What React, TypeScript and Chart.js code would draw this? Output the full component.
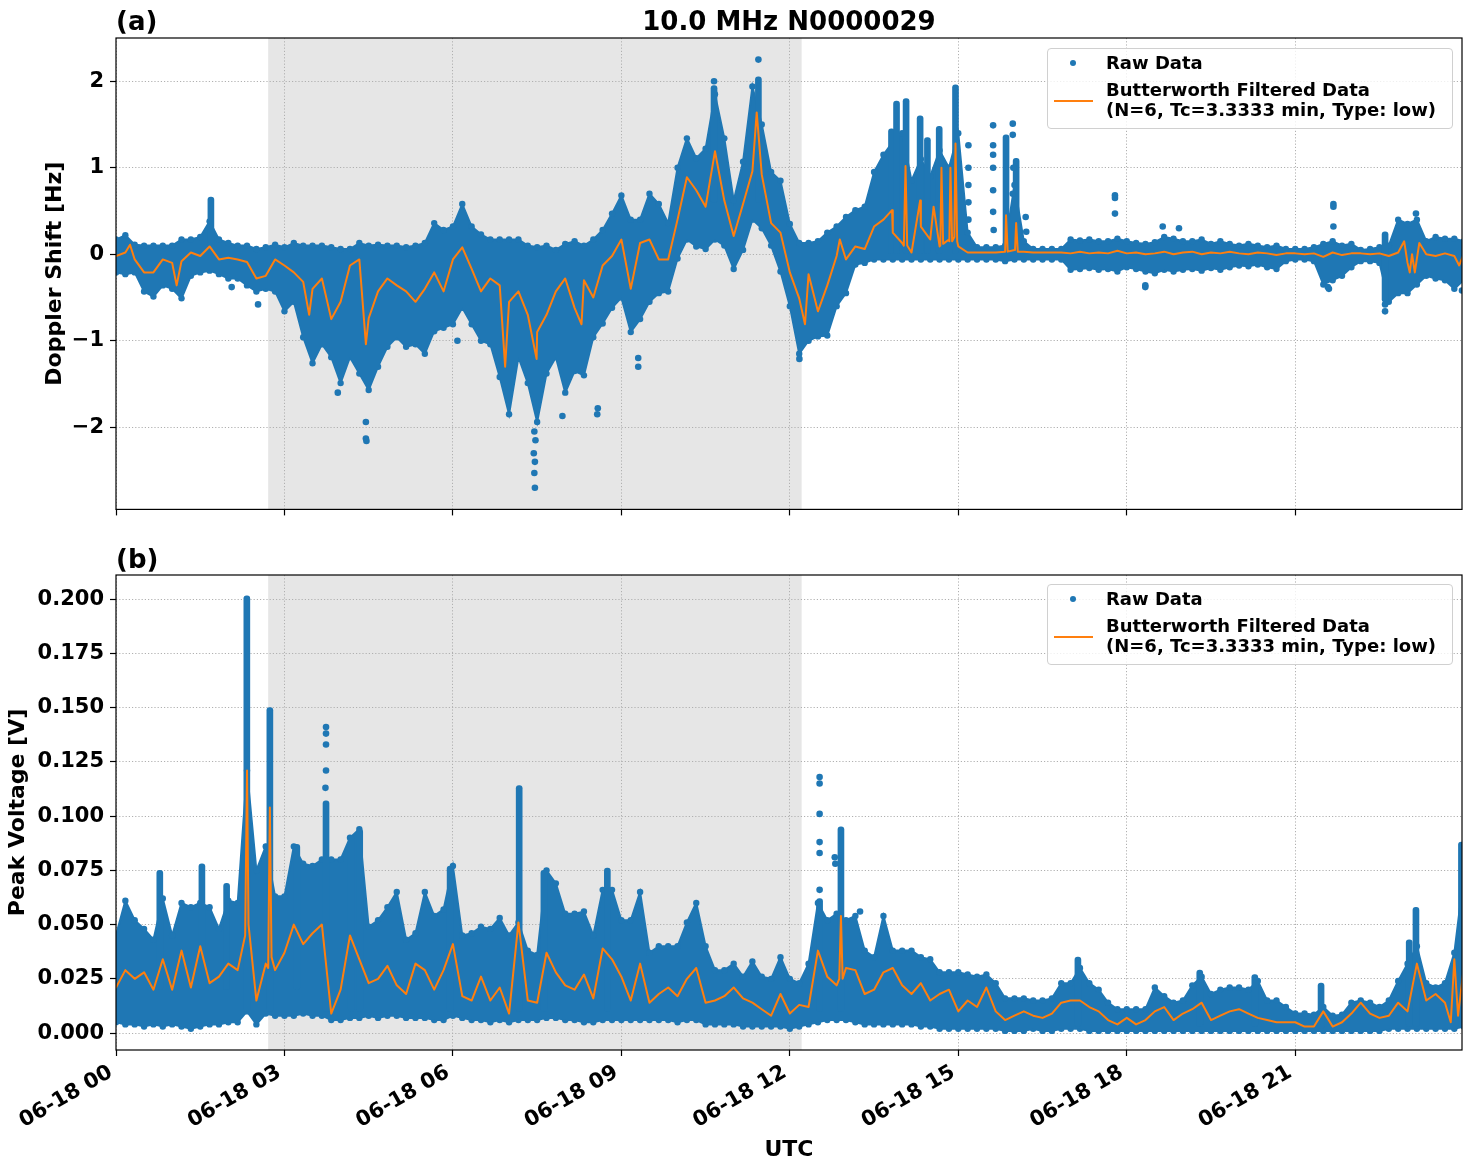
import { useEffect, useRef } from 'react';
import { Chart, registerables } from 'chart.js';

Chart.register(...registerables);
Chart.defaults.font.family = "'DejaVu Sans', sans-serif";
Chart.defaults.color = '#000';

// ---------- time axis (hours after 06-18 00 UTC) ----------
const BIN_MINUTES = 10;
const HOUR_TICKS = [0, 3, 6, 9, 12, 15, 18, 21];
const HOUR_TICK_LABELS = ['06-18 00', '06-18 03', '06-18 06', '06-18 09', '06-18 12', '06-18 15', '06-18 18', '06-18 21'];
const X_END_HOURS = 23.97;
const SHADE_HOURS = [2.71, 12.21];

// ---------- (a) Doppler shift [Hz] ----------
const DOPPLER_RANGE = [-2.95, 2.5];
const DOPPLER_TICKS = [-2, -1, 0, 1, 2];
const DOPPLER_TICK_LABELS = ['\u22122', '\u22121', '0', '1', '2'];

// upper / lower edge of the raw cloud, one value per 10-minute bin
const DOPPLER_HI = [
  0.17, 0.22, 0.11, 0.10, 0.10, 0.10, 0.10, 0.17, 0.17, 0.20, 0.38, 0.17,
  0.13, 0.10, 0.10, 0.06, 0.08, 0.11, 0.08, 0.13, 0.10, 0.10, 0.10, 0.08,
  0.06, 0.06, 0.13, 0.10, 0.11, 0.10, 0.10, 0.08, 0.10, 0.13, 0.36, 0.28,
  0.32, 0.58, 0.32, 0.23, 0.17, 0.17, 0.17, 0.17, 0.10, 0.08, 0.10, 0.05,
  0.12, 0.15, 0.10, 0.17, 0.28, 0.47, 0.68, 0.40, 0.40, 0.70, 0.58, 0.36,
  1.00, 1.34, 1.11, 1.22, 1.85, 1.34, 0.62, 1.07, 1.94, 1.50, 0.95, 0.85,
  0.35, 0.13, 0.13, 0.15, 0.25, 0.32, 0.43, 0.51, 0.55, 0.95, 1.15, 1.30,
  1.40, 0.85, 1.10, 0.90, 1.20, 1.00, 1.40, 0.25, 0.08, 0.08, 0.08, 0.10,
  0.80, 0.15, 0.06, 0.06, 0.06, 0.06, 0.17, 0.16, 0.17, 0.15, 0.15, 0.18,
  0.15, 0.13, 0.12, 0.14, 0.20, 0.18, 0.15, 0.15, 0.17, 0.12, 0.15, 0.12,
  0.10, 0.12, 0.10, 0.08, 0.10, 0.06, 0.06, 0.06, 0.08, 0.12, 0.15, 0.10,
  0.12, 0.05, 0.06, 0.08, 0.10, 0.40, 0.35, 0.40, 0.15, 0.20, 0.18, 0.18,
  0.15,
];
const DOPPLER_LO = [
  -0.21, -0.23, -0.21, -0.43, -0.49, -0.36, -0.40, -0.51, -0.25, -0.21, -0.19, -0.23,
  -0.28, -0.28, -0.36, -0.43, -0.40, -0.43, -0.66, -0.55, -0.96, -1.26, -1.04, -1.19,
  -1.49, -1.19, -1.38, -1.57, -1.30, -1.07, -0.96, -1.07, -1.04, -1.15, -0.89, -0.85,
  -0.81, -0.62, -0.81, -1.00, -1.04, -1.42, -1.85, -1.19, -1.49, -1.94, -1.38, -1.19,
  -1.60, -1.35, -1.40, -0.96, -0.80, -0.62, -0.50, -0.90, -0.75, -0.55, -0.45, -0.43,
  -0.05, 0.17, 0.09, 0.06, 0.17, 0.10, -0.17, 0.05, 0.40, 0.30, 0.10, -0.20,
  -0.60, -1.15, -1.00, -0.95, -0.94, -0.60, -0.45, -0.12, -0.10, -0.06, -0.06, -0.06,
  -0.06, -0.06, -0.06, -0.06, -0.06, -0.06, -0.06, -0.06, -0.06, -0.06, -0.06, -0.08,
  -0.06, -0.06, -0.06, -0.06, -0.06, -0.06, -0.18, -0.17, -0.16, -0.18, -0.17, -0.20,
  -0.15, -0.17, -0.20, -0.22, -0.18, -0.20, -0.18, -0.17, -0.19, -0.16, -0.18, -0.15,
  -0.13, -0.14, -0.12, -0.15, -0.17, -0.08, -0.06, -0.06, -0.08, -0.35, -0.30, -0.25,
  -0.15, -0.08, -0.08, -0.10, -0.55, -0.45, -0.45, -0.35, -0.25, -0.28, -0.30, -0.40,
  -0.30,
];
// Butterworth low-pass output, one value per 10-minute bin
const DOPPLER_FILT = [
  -0.02, 0.02, -0.06, -0.21, -0.21, -0.06, -0.10, -0.08, 0.02, -0.02, 0.09, -0.06,
  -0.04, -0.06, -0.09, -0.28, -0.25, -0.06, -0.13, -0.21, -0.32, -0.40, -0.28, -0.75,
  -0.55, -0.13, -0.06, -0.74, -0.43, -0.28, -0.36, -0.43, -0.55, -0.40, -0.21, -0.43,
  -0.06, 0.08, -0.17, -0.43, -0.28, -0.36, -0.55, -0.43, -0.70, -0.90, -0.70, -0.43,
  -0.28, -0.62, -0.30, -0.50, -0.13, -0.02, 0.17, -0.40, 0.13, 0.17, -0.06, -0.06,
  0.40, 0.89, 0.74, 0.55, 1.19, 0.62, 0.21, 0.58, 0.96, 0.92, 0.36, 0.25,
  -0.21, -0.51, -0.23, -0.66, -0.36, -0.02, -0.06, 0.09, 0.06, 0.32, 0.40, 0.25,
  0.13, 0.02, 0.32, 0.17, 0.09, 0.17, 0.09, 0.02, 0.02, 0.02, 0.02, 0.03,
  0.05, 0.03, 0.02, 0.02, 0.02, 0.02, 0.01, 0.03, 0.01, 0.02, 0.01, 0.04,
  0.01, 0.02, 0.00, 0.01, 0.03, 0.00, 0.02, 0.03, 0.00, 0.02, 0.01, 0.03,
  0.01, 0.00, 0.02, 0.01, -0.01, 0.01, 0.01, 0.00, 0.01, -0.03, 0.02, -0.01,
  0.01, 0.01, 0.00, 0.01, -0.02, 0.02, -0.10, -0.05, 0.00, -0.02, 0.01, -0.02,
  0.00,
];
// short excursions of the filtered trace between bins: [hour, Hz]
const DOPPLER_FILT_PEAKS = [
  [0.25, 0.11], [1.08, -0.36], [3.44, -0.70], [4.45, -1.04], [6.93, -1.30], [7.49, -1.21],
  [8.29, -0.81], [11.41, 1.64], [12.27, -0.81], [12.89, 0.17], [13.82, 0.51],
  [14.03, 0.10], [14.06, 1.02], [14.09, 0.10], [14.32, 0.62], [14.56, 0.55],
  [14.68, 0.10], [14.70, 1.00], [14.73, 0.12], [14.84, 0.15], [14.86, 1.00], [14.89, 0.15],
  [14.93, 0.20], [14.95, 1.28], [14.98, 0.15], [15.83, 0.03], [15.85, 0.45], [15.88, 0.03],
  [16.01, 0.05], [16.03, 0.36], [16.06, 0.03], [22.94, 0.15], [23.04, -0.21], [23.08, 0.00],
  [23.13, -0.21], [23.21, 0.13], [23.92, -0.13],
];
// narrow dense columns of raw samples: [hour, low Hz, high Hz]
const DOPPLER_SPIKES = [
  [1.69, 0.05, 0.66], [10.65, 0.60, 1.95], [11.44, 0.60, 2.05], [13.81, 0.0, 1.45],
  [13.90, 0.0, 1.77], [14.07, 0.0, 1.80], [14.32, 0.0, 1.60], [14.45, 0.0, 1.35],
  [14.66, 0.0, 1.48], [14.95, 0.0, 1.96], [15.85, 0.0, 1.38], [16.03, 0.0, 1.11],
  [22.60, -0.55, 0.26],
];
// isolated raw samples: [hour, Hz]
const DOPPLER_DOTS = [
  [2.06, -0.38], [2.53, -0.58], [3.95, -1.60], [4.45, -1.94], [4.45, -2.13], [4.46, -2.16],
  [6.08, -1.00], [7.44, -2.30], [7.45, -2.05], [7.45, -2.53], [7.46, -2.40], [7.46, -2.70],
  [7.47, -2.15], [7.95, -1.87], [8.57, -1.85], [8.58, -1.78], [9.30, -1.30], [9.30, -1.20],
  [10.65, 2.00], [11.44, 2.25], [12.17, -1.21], [15.18, 1.26], [15.18, 1.00], [15.18, 0.80],
  [15.18, 0.60], [15.18, 0.40], [15.62, 1.49], [15.62, 1.26], [15.62, 1.15], [15.62, 1.00],
  [15.62, 0.74], [15.62, 0.49], [15.63, 0.28], [15.97, 1.51], [15.97, 1.38], [15.98, 1.00],
  [15.97, 0.70], [16.20, 0.43], [16.21, 0.26], [17.79, 0.68], [17.79, 0.65], [17.79, 0.47],
  [18.33, -0.36], [18.33, -0.38], [18.64, 0.32], [18.93, 0.30], [21.58, -0.38], [21.60, -0.40],
  [21.68, 0.58], [21.68, 0.55], [21.68, 0.32], [22.60, -0.66], [22.60, -0.58], [23.15, 0.47],
  [23.97, -0.42],
];

// ---------- (b) peak voltage [V] ----------
const VOLT_RANGE = [-0.0078, 0.2111];
const VOLT_TICKS = [0, 0.025, 0.05, 0.075, 0.1, 0.125, 0.15, 0.175, 0.2];
const VOLT_TICK_LABELS = ['0.000', '0.025', '0.050', '0.075', '0.100', '0.125', '0.150', '0.175', '0.200'];

const VOLT_HI = [
  0.045, 0.061, 0.052, 0.048, 0.043, 0.062, 0.045, 0.060, 0.058, 0.060, 0.058, 0.048,
  0.061, 0.060, 0.121, 0.075, 0.086, 0.063, 0.063, 0.086, 0.078, 0.077, 0.080, 0.080,
  0.080, 0.090, 0.094, 0.049, 0.052, 0.058, 0.065, 0.043, 0.046, 0.065, 0.054, 0.057,
  0.077, 0.045, 0.046, 0.049, 0.048, 0.053, 0.045, 0.051, 0.038, 0.036, 0.075, 0.069,
  0.055, 0.055, 0.056, 0.045, 0.066, 0.066, 0.052, 0.052, 0.065, 0.037, 0.040, 0.040,
  0.040, 0.051, 0.060, 0.040, 0.029, 0.029, 0.032, 0.026, 0.033, 0.026, 0.025, 0.035,
  0.025, 0.023, 0.032, 0.060, 0.052, 0.055, 0.052, 0.054, 0.038, 0.035, 0.054, 0.038,
  0.038, 0.038, 0.035, 0.034, 0.028, 0.028, 0.028, 0.027, 0.026, 0.027, 0.023, 0.016,
  0.016, 0.016, 0.015, 0.015, 0.016, 0.023, 0.023, 0.030, 0.023, 0.020, 0.014, 0.011,
  0.011, 0.011, 0.011, 0.021, 0.017, 0.014, 0.015, 0.022, 0.026, 0.018, 0.020, 0.021,
  0.021, 0.020, 0.024, 0.015, 0.015, 0.012, 0.009, 0.009, 0.0085, 0.012, 0.008, 0.0085,
  0.014, 0.015, 0.014, 0.012, 0.015, 0.024, 0.032, 0.040, 0.023, 0.021, 0.023, 0.037,
  0.072,
];
const VOLT_LO = [
  0.005, 0.004, 0.004, 0.003, 0.004, 0.003, 0.004, 0.003, 0.002, 0.003, 0.004, 0.004,
  0.005, 0.005, 0.010, 0.004, 0.009, 0.008, 0.008, 0.008, 0.009, 0.008, 0.008, 0.006,
  0.006, 0.007, 0.007, 0.008, 0.007, 0.008, 0.008, 0.007, 0.007, 0.007, 0.006, 0.006,
  0.008, 0.007, 0.006, 0.006, 0.005, 0.006, 0.005, 0.006, 0.006, 0.006, 0.007, 0.007,
  0.006, 0.006, 0.005, 0.005, 0.006, 0.006, 0.006, 0.006, 0.006, 0.006, 0.006, 0.006,
  0.005, 0.006, 0.006, 0.004, 0.004, 0.004, 0.004, 0.003, 0.003, 0.003, 0.003, 0.003,
  0.002, 0.003, 0.004, 0.005, 0.006, 0.006, 0.006, 0.005, 0.004, 0.004, 0.004, 0.004,
  0.004, 0.004, 0.003, 0.003, 0.002, 0.002, 0.002, 0.002, 0.002, 0.002, 0.002, 0.001,
  0.001, 0.001, 0.002, 0.001, 0.001, 0.002, 0.002, 0.002, 0.001, 0.001, 0.001, 0.001,
  0.001, 0.001, 0.001, 0.001, 0.001, 0.001, 0.001, 0.001, 0.001, 0.001, 0.001, 0.001,
  0.001, 0.001, 0.001, 0.001, 0.001, 0.001, 0.001, 0.001, 0.001, 0.001, 0.001, 0.001,
  0.001, 0.001, 0.001, 0.001, 0.002, 0.002, 0.002, 0.002, 0.002, 0.002, 0.002, 0.002,
  0.003,
];
const VOLT_FILT = [
  0.021, 0.029, 0.025, 0.028, 0.020, 0.034, 0.020, 0.038, 0.021, 0.040, 0.023, 0.026,
  0.032, 0.029, 0.121, 0.015, 0.032, 0.029, 0.037, 0.050, 0.041, 0.046, 0.050, 0.009,
  0.020, 0.045, 0.034, 0.023, 0.025, 0.031, 0.022, 0.018, 0.032, 0.029, 0.020, 0.029,
  0.041, 0.017, 0.015, 0.026, 0.015, 0.021, 0.009, 0.051, 0.015, 0.014, 0.037, 0.028,
  0.022, 0.020, 0.027, 0.016, 0.039, 0.034, 0.026, 0.015, 0.032, 0.014, 0.018, 0.021,
  0.017, 0.025, 0.030, 0.014, 0.015, 0.017, 0.021, 0.016, 0.014, 0.011, 0.008, 0.018,
  0.009, 0.013, 0.012, 0.038, 0.026, 0.022, 0.030, 0.029, 0.018, 0.020, 0.028, 0.030,
  0.022, 0.018, 0.023, 0.015, 0.018, 0.020, 0.010, 0.015, 0.012, 0.021, 0.010, 0.006,
  0.008, 0.010, 0.008, 0.007, 0.009, 0.014, 0.015, 0.015, 0.012, 0.010, 0.006, 0.004,
  0.007, 0.004, 0.006, 0.010, 0.012, 0.006, 0.009, 0.011, 0.014, 0.006, 0.008, 0.010,
  0.011, 0.009, 0.007, 0.006, 0.005, 0.005, 0.005, 0.003, 0.003, 0.010, 0.003, 0.005,
  0.009, 0.014, 0.009, 0.007, 0.008, 0.014, 0.010, 0.032, 0.015, 0.018, 0.014, 0.034,
  0.030,
];
const VOLT_FILT_PEAKS = [
  [2.30, 0.045], [2.36, 0.050], [2.71, 0.030], [2.74, 0.104], [2.77, 0.035],
  [12.88, 0.025], [12.91, 0.054], [12.94, 0.025], [23.77, 0.005], [23.90, 0.008],
];
const VOLT_SPIKES = [
  [0.78, 0.020, 0.075], [1.53, 0.020, 0.078], [1.97, 0.020, 0.069], [2.33, 0.010, 0.2015],
  [2.74, 0.010, 0.150], [3.22, 0.020, 0.087], [3.74, 0.010, 0.107], [4.19, 0.010, 0.091],
  [4.34, 0.010, 0.094], [5.95, 0.010, 0.077], [7.18, 0.010, 0.114], [7.62, 0.010, 0.075],
  [8.75, 0.010, 0.076], [12.53, 0.010, 0.062], [12.91, 0.010, 0.095], [17.13, 0.003, 0.035],
  [19.30, 0.003, 0.029], [20.28, 0.003, 0.027], [21.46, 0.002, 0.023], [23.03, 0.003, 0.043],
  [23.15, 0.003, 0.058], [23.96, 0.003, 0.088],
];
const VOLT_DOTS = [
  [3.74, 0.141], [3.74, 0.138], [3.74, 0.133], [3.74, 0.121], [3.73, 0.113],
  [12.53, 0.118], [12.53, 0.115], [12.53, 0.101], [12.53, 0.088], [12.53, 0.083],
  [12.53, 0.066], [12.80, 0.081], [12.81, 0.078], [13.25, 0.056],
];

// ---------- styling ----------
const BLUE = '#1f77b4';
const ORANGE = '#ff7f0e';
const FONT = "'DejaVu Sans', sans-serif";

const binHour = (i: number) => (i * BIN_MINUTES) / 60;

const panelDecor = {
  id: 'panelDecor',
  beforeDraw(chart: any) {
    const { ctx, chartArea, scales } = chart;
    const l = scales.x.getPixelForValue(SHADE_HOURS[0]);
    const r = scales.x.getPixelForValue(SHADE_HOURS[1]);
    ctx.save();
    ctx.fillStyle = '#e6e6e6';
    ctx.fillRect(l, chartArea.top, r - l, chartArea.bottom - chartArea.top);
    ctx.restore();
  },
  afterDatasetsDraw(chart: any) {
    const { ctx, chartArea } = chart;
    ctx.save();
    ctx.strokeStyle = '#000';
    ctx.lineWidth = 1.2;
    ctx.strokeRect(chartArea.left, chartArea.top, chartArea.right - chartArea.left, chartArea.bottom - chartArea.top);
    ctx.restore();
  },
};

interface PanelSpec {
  hi: number[];
  lo: number[];
  filt: number[];
  peaks: number[][];
  spikes: number[][];
  dots: number[][];
  range: number[];
  ticks: number[];
  tickLabels: string[];
  yTitle: string;
  yTitlePad: number;
  showTime: boolean;
  padTop: number;
}

function buildChart(canvas: HTMLCanvasElement, p: PanelSpec) {
  const filtPts = p.filt
    .map((v, i) => ({ x: binHour(i), y: v }))
    .concat(p.peaks.map(([x, y]) => ({ x, y })))
    .sort((a, b) => a.x - b.x);
  const upper = p.hi.map((v, i) => ({ x: binHour(i), y: v }));
  const lower = p.lo.map((v, i) => ({ x: binHour(i), y: v }));
  const spikes = p.spikes.map(([x, lo, hi]) => ({ x, y: [lo, hi] }));
  const dots = p.dots.map(([x, y]) => ({ x, y }));

  const grid = {
    color: '#b0b0b0',
    lineWidth: 1,
    offset: false,
    drawTicks: true,
    tickLength: 6,
    tickColor: '#000',
    tickWidth: 1.2,
    tickBorderDash: [],
  };
  const border = { display: false, dash: [1.2, 2] };

  // envelope edges carry marker dots so the cloud keeps a speckled outline
  const edge = {
    type: 'line',
    borderColor: BLUE,
    borderWidth: 2,
    pointRadius: 3.2,
    pointBackgroundColor: BLUE,
    pointBorderWidth: 0,
    tension: 0,
  };

  return new Chart(canvas, {
    type: 'scatter',
    data: {
      datasets: [
        {
          type: 'line',
          label: 'Butterworth Filtered Data',
          data: filtPts,
          borderColor: ORANGE,
          borderWidth: 2,
          pointRadius: 0,
          tension: 0,
          borderJoinStyle: 'round',
          borderCapStyle: 'round',
          order: 0,
        },
        {
          type: 'scatter',
          label: 'Raw Data',
          data: dots,
          backgroundColor: BLUE,
          borderWidth: 0,
          pointRadius: 3.3,
          order: 1,
        },
        {
          type: 'bar',
          label: 'Raw Data',
          data: spikes,
          backgroundColor: BLUE,
          barThickness: 6,
          borderRadius: 3,
          borderSkipped: false,
          grouped: false,
          order: 2,
        },
        { ...edge, label: 'Raw Data', data: upper, fill: '+1', backgroundColor: BLUE, order: 3 },
        { ...edge, label: 'Raw Data', data: lower, fill: false, backgroundColor: BLUE, order: 4 },
      ],
    } as any,
    options: {
      responsive: false,
      animation: false,
      devicePixelRatio: 1,
      events: [],
      layout: { padding: { left: 0, right: 10, top: p.padTop, bottom: 0 } },
      plugins: { legend: { display: false }, tooltip: { enabled: false } },
      scales: {
        x: {
          type: 'linear',
          position: 'bottom',
          min: 0,
          max: X_END_HOURS,
          offset: false,
          afterBuildTicks: (s: any) => {
            s.ticks = HOUR_TICKS.map((value) => ({ value }));
          },
          afterFit: (s: any) => {
            s.height = p.showTime ? 122 : 10;
          },
          grid,
          border,
          ticks: {
            display: p.showTime,
            autoSkip: false,
            minRotation: 30,
            maxRotation: 30,
            padding: 4,
            labelOffset: -5,
            color: '#000',
            font: { family: FONT, size: 21, weight: 'bold' },
            callback: (v: any) => HOUR_TICK_LABELS[HOUR_TICKS.indexOf(Number(v))] ?? '',
          },
          title: {
            display: p.showTime,
            text: 'UTC',
            color: '#000',
            font: { family: FONT, size: 22, weight: 'bold' },
            padding: { top: 0, bottom: 9 },
          },
        },
        y: {
          type: 'linear',
          min: p.range[0],
          max: p.range[1],
          afterBuildTicks: (s: any) => {
            s.ticks = p.ticks.map((value) => ({ value }));
          },
          afterFit: (s: any) => {
            s.width = 116;
          },
          grid,
          border,
          ticks: {
            padding: 6,
            color: '#000',
            font: { family: FONT, size: 21, weight: 'bold' },
            callback: (v: any) => {
              const k = p.ticks.findIndex((t) => Math.abs(t - Number(v)) < 1e-9);
              return k >= 0 ? p.tickLabels[k] : '';
            },
          },
          title: {
            display: true,
            text: p.yTitle,
            color: '#000',
            font: { family: FONT, size: 22, weight: 'bold' },
            padding: { top: p.yTitlePad, bottom: 0 },
          },
        },
      },
    } as any,
    plugins: [panelDecor],
  });
}

function LegendBox({ top }: { top: number }) {
  return (
    <div
      style={{
        position: 'absolute',
        left: 1047,
        top,
        width: 406,
        height: 81,
        boxSizing: 'border-box',
        border: '1px solid #d0d0d0',
        borderRadius: 4,
        background: 'rgba(255,255,255,0.8)',
        fontSize: 18,
        lineHeight: '20.6px',
      }}
    >
      <div style={{ position: 'absolute', left: 22.3, top: 11, width: 6, height: 6, borderRadius: '50%', background: BLUE }} />
      <div style={{ position: 'absolute', left: 6.3, top: 51.4, width: 38.4, height: 2, background: ORANGE }} />
      <div style={{ position: 'absolute', left: 58, top: 3.5, whiteSpace: 'nowrap' }}>Raw Data</div>
      <div style={{ position: 'absolute', left: 58, top: 30.9, whiteSpace: 'nowrap' }}>
        Butterworth Filtered Data
        <br />
        (N=6, Tc=3.3333 min, Type: low)
      </div>
    </div>
  );
}

export default function App() {
  const topRef = useRef<HTMLCanvasElement>(null);
  const bottomRef = useRef<HTMLCanvasElement>(null);

  useEffect(() => {
    const doppler = buildChart(topRef.current!, {
      hi: DOPPLER_HI,
      lo: DOPPLER_LO,
      filt: DOPPLER_FILT,
      peaks: DOPPLER_FILT_PEAKS,
      spikes: DOPPLER_SPIKES,
      dots: DOPPLER_DOTS,
      range: DOPPLER_RANGE,
      ticks: DOPPLER_TICKS,
      tickLabels: DOPPLER_TICK_LABELS,
      yTitle: 'Doppler Shift [Hz]',
      yTitlePad: 42,
      showTime: false,
      padTop: 38,
    });
    const volt = buildChart(bottomRef.current!, {
      hi: VOLT_HI,
      lo: VOLT_LO,
      filt: VOLT_FILT,
      peaks: VOLT_FILT_PEAKS,
      spikes: VOLT_SPIKES,
      dots: VOLT_DOTS,
      range: VOLT_RANGE,
      ticks: VOLT_TICKS,
      tickLabels: VOLT_TICK_LABELS,
      yTitle: 'Peak Voltage [V]',
      yTitlePad: 5,
      showTime: true,
      padTop: 47,
    });
    return () => {
      doppler.destroy();
      volt.destroy();
    };
  }, []);

  const heading = { position: 'absolute' as const, fontSize: 26, lineHeight: '30px', whiteSpace: 'nowrap' as const };

  return (
    <div
      style={{
        position: 'absolute',
        left: 0,
        top: 0,
        width: 1472,
        height: 1172,
        background: '#fff',
        fontFamily: FONT,
        fontWeight: 'bold',
        color: '#000',
        overflow: 'hidden',
      }}
    >
      <canvas ref={topRef} width={1472} height={528} style={{ position: 'absolute', left: 0, top: 0 }} />
      <canvas ref={bottomRef} width={1472} height={644} style={{ position: 'absolute', left: 0, top: 528 }} />
      <div style={{ ...heading, left: 116, top: 5.5 }}>(a)</div>
      <div style={{ ...heading, left: 116, width: 1346, top: 5.5, textAlign: 'center' }}>10.0 MHz N0000029</div>
      <div style={{ ...heading, left: 116, top: 543.5 }}>(b)</div>
      <LegendBox top={48} />
      <LegendBox top={584} />
    </div>
  );
}
